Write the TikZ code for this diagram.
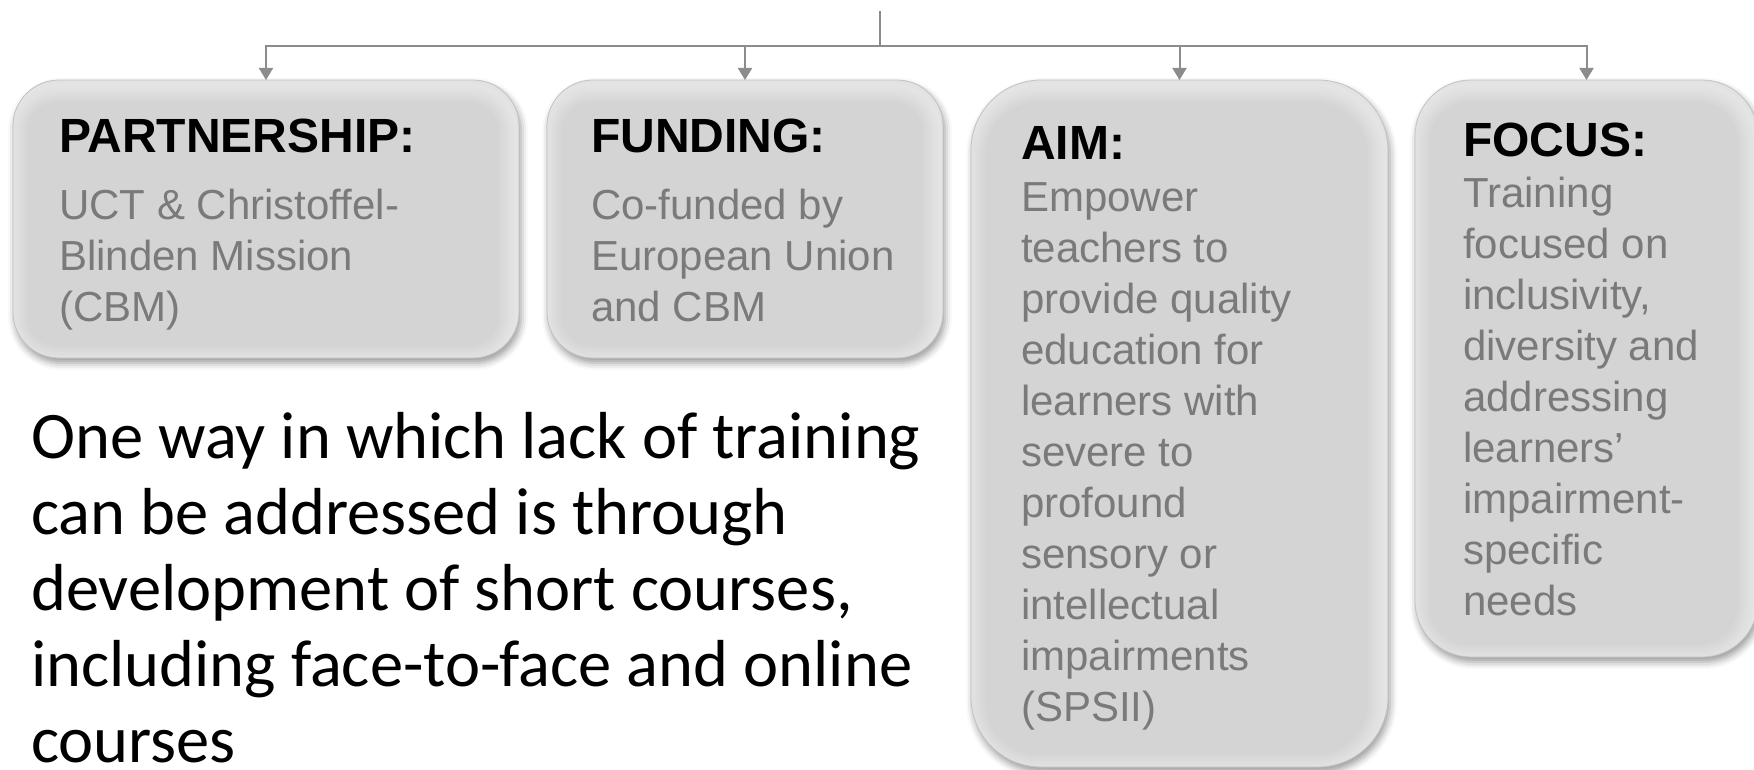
\documentclass[tikz,border=0pt]{standalone}
\usepackage{fontspec}
\setmainfont{Liberation Sans}
\newfontfamily\calibrifont{Carlito}
\usetikzlibrary{arrows.meta,shadows.blur}

\definecolor{linegray}{HTML}{8C8C8C}
\definecolor{boxfill}{HTML}{D4D4D4}
\definecolor{boxedge}{HTML}{C2C2C2}
\definecolor{bodygray}{HTML}{7A7A7A}

\tikzset{
  card/.style={
    draw=boxedge, line width=0.8pt, fill=boxfill,
    inner sep=0pt, outer sep=0pt, anchor=north west,
    rounded corners=#1,
    blur shadow={shadow xshift=2pt, shadow yshift=-5pt,
                 shadow blur radius=7pt, shadow opacity=40},
    path picture={
      % soft inner glow, strongest along the top and right edges
      \foreach \w in {4,10,16,22,28,34}
        \draw[white, opacity=0.09, line width=\w pt, rounded corners=#1]
          ([xshift=-3pt,yshift=-5pt]path picture bounding box.north west)
          rectangle ([xshift=-3pt,yshift=-5pt]path picture bounding box.south east);
    }
  },
  heading/.style={anchor=base west, inner sep=0pt, text=black,
    font=\fontsize{48}{51}\selectfont\bfseries},
  body/.style={anchor=base west, inner sep=0pt, text=bodygray,
    font=\fontsize{42}{51}\selectfont},
  para/.style={anchor=base west, inner sep=0pt, text=black,
    font=\calibrifont\fontsize{66.5}{76}\selectfont},
  link/.style={draw=linegray, line width=2pt},
  linkarrow/.style={link, -{Triangle[width=14pt,length=12pt]}},
}

% stacked lines, baseline of the block = baseline of its first line
\newcommand{\lines}[2]{\vtop{\baselineskip=#1\relax\lineskiplimit=-100pt\relax\def\nl{\par}%
  \hsize=1000pt\parindent=0pt\leftskip=0pt\rightskip=0pt plus 1fil\relax #2\par}}

\begin{document}
\begin{tikzpicture}[x=1pt, y=-1pt]
  \useasboundingbox (0,0) rectangle (1754,770);
  \begin{scope}
    \clip (0,0) rectangle (1754,770);

    % the four cards
    \node[card=46pt, minimum width=506pt, minimum height=278pt] (b1) at (13,80) {};
    \node[card=46pt, minimum width=396pt, minimum height=278pt] (b2) at (547,80) {};
    \node[card=70pt, minimum width=417pt, minimum height=687pt] (b3) at (971,80) {};
    \node[card=56pt, minimum width=343pt, minimum height=577pt] (b4) at (1415,80) {};

    % card texts
    \node[heading] (h1) at (59,153) {PARTNERSHIP:};
    \node[body] (t1) at (59,220) {\lines{51pt}{UCT \& Christoffel-\nl Blinden Mission\nl (CBM)}};

    \node[heading] (h2) at (591,153) {FUNDING:};
    \node[body] (t2) at (591,220) {\lines{51pt}{Co-funded by\nl European Union\nl and CBM}};

    \node[heading] (h3) at (1021,160) {AIM:};
    \node[body] (t3) at (1021,212) {\lines{51pt}{Empower\nl teachers to\nl provide quality\nl education for\nl learners with\nl severe to\nl profound\nl sensory or\nl intellectual\nl impairments\nl (SPSII)}};

    \node[heading] (h4) at (1463,157) {FOCUS:};
    \node[body] (t4) at (1463,208) {\lines{51pt}{Training\nl focused on\nl inclusivity,\nl diversity and\nl addressing\nl learners’\nl impairment-\nl specific\nl needs}};

    % connectors
    \coordinate (top) at (880,11);
    \coordinate (hub) at (880,46);
    \draw[link] (top) -- (hub);
    \draw[link] (b1.north |- hub) -- (b4.north |- hub);
    \draw[linkarrow] (hub) -| (b1.north);
    \draw[linkarrow] (hub) -| (b2.north);
    \draw[linkarrow] (hub) -| (b3.north);
    \draw[linkarrow] (hub) -| (b4.north);

    % paragraph
    \node[para] (p) at (31,458) {\lines{76pt}{One way in which lack of training\nl can be addressed is through\nl development of short courses,\nl including face-to-face and online\nl courses}};
  \end{scope}
\end{tikzpicture}
\end{document}
